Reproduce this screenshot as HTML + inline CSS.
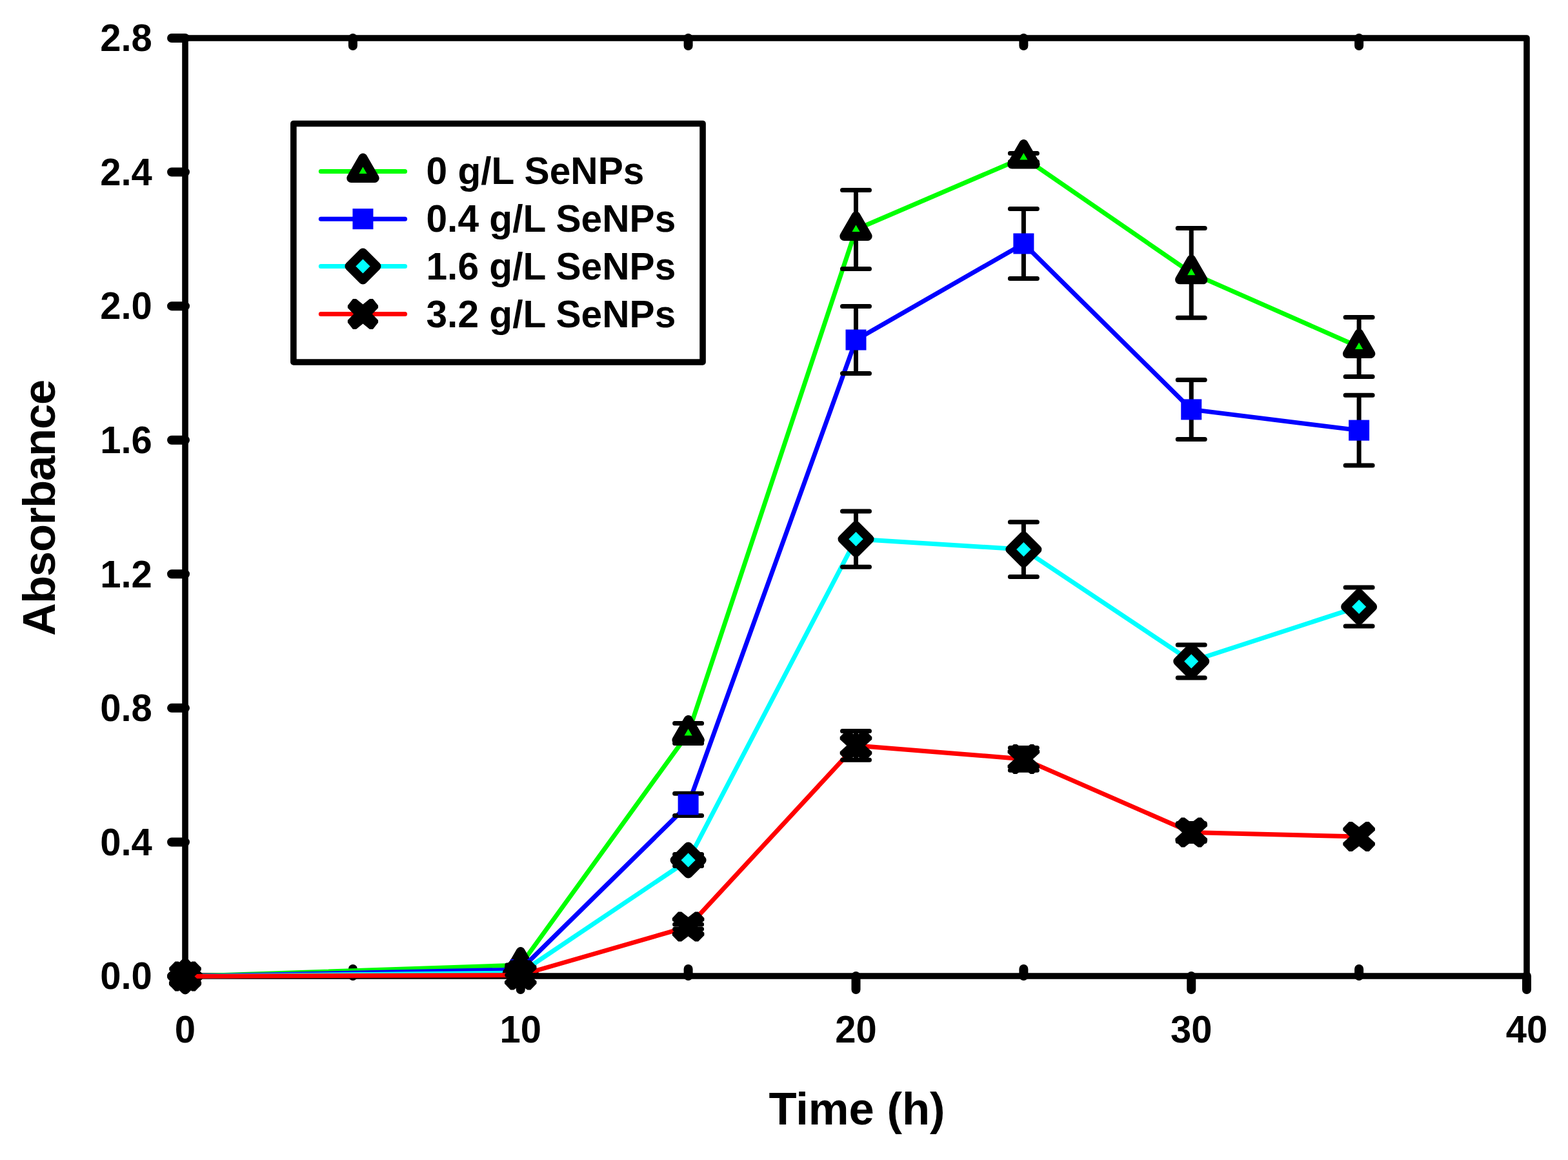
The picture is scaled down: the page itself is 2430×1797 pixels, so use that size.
<!DOCTYPE html>
<html><head><meta charset="utf-8"><title>Absorbance vs Time</title>
<style>html,body{margin:0;padding:0;background:#fff;}svg{display:block;}</style>
</head><body>
<svg width="2430" height="1797" viewBox="0 0 2430 1797">
<rect x="0" y="0" width="2430" height="1797" fill="#fff"/>
<rect x="287.0" y="59.0" width="2079.0" height="1453.0" fill="none" stroke="#000" stroke-width="9.6" stroke-linejoin="round"/>
<path d="M287.0 1512.00H266.0 M287.0 1304.43H266.0 M287.0 1096.86H266.0 M287.0 889.29H266.0 M287.0 681.71H266.0 M287.0 474.14H266.0 M287.0 266.57H266.0 M287.0 59.00H266.0 M287.00 1512.0V1533.0 M806.75 1512.0V1533.0 M1326.50 1512.0V1533.0 M1846.25 1512.0V1533.0 M2366.00 1512.0V1533.0 M546.88 1512.0V1501.0 M546.88 59.0V71.0 M1066.62 1512.0V1501.0 M1066.62 59.0V71.0 M1586.38 1512.0V1501.0 M1586.38 59.0V71.0 M2106.12 1512.0V1501.0 M2106.12 59.0V71.0" stroke="#000" stroke-width="14" stroke-linecap="round" fill="none"/>
<g font-family="Liberation Sans, Arial, sans-serif" font-weight="bold" font-size="58" fill="#000">
<text transform="translate(235.8 1532.30) scale(1 1.015)" text-anchor="end">0.0</text>
<text transform="translate(235.8 1324.73) scale(1 1.015)" text-anchor="end">0.4</text>
<text transform="translate(235.8 1117.16) scale(1 1.015)" text-anchor="end">0.8</text>
<text transform="translate(235.8 909.59) scale(1 1.015)" text-anchor="end">1.2</text>
<text transform="translate(235.8 702.01) scale(1 1.015)" text-anchor="end">1.6</text>
<text transform="translate(235.8 494.44) scale(1 1.015)" text-anchor="end">2.0</text>
<text transform="translate(235.8 286.87) scale(1 1.015)" text-anchor="end">2.4</text>
<text transform="translate(235.8 79.30) scale(1 1.015)" text-anchor="end">2.8</text>
<text transform="translate(287.00 1614.9) scale(1 1.015)" text-anchor="middle">0</text>
<text transform="translate(806.75 1614.9) scale(1 1.015)" text-anchor="middle">10</text>
<text transform="translate(1326.50 1614.9) scale(1 1.015)" text-anchor="middle">20</text>
<text transform="translate(1846.25 1614.9) scale(1 1.015)" text-anchor="middle">30</text>
<text transform="translate(2366.00 1614.9) scale(1 1.015)" text-anchor="middle">40</text>
</g>
<text font-family="Liberation Sans, Arial, sans-serif" font-weight="bold" font-size="70.6" x="1328" y="1741.9" text-anchor="middle">Time (h)</text>
<text font-family="Liberation Sans, Arial, sans-serif" font-weight="bold" font-size="70.6" letter-spacing="-1.2" transform="translate(85.2 786.9) rotate(-90)" text-anchor="middle">Absorbance</text>
<polyline points="287.00,1512.40 806.75,1495.00 1066.62,1135.90 1326.50,355.45 1586.38,244.00 1846.25,422.85 2106.12,537.45" fill="none" stroke="#00ff00" stroke-width="7" stroke-linejoin="round" stroke-linecap="round"/>
<path d="M806.75 1495.00V1495.00M785.75 1495.00H827.75M785.75 1495.00H827.75 M1066.62 1120.40V1151.40M1045.62 1120.40H1087.62M1045.62 1151.40H1087.62 M1326.50 294.45V416.45M1305.50 294.45H1347.50M1305.50 416.45H1347.50 M1586.38 237.50V250.50M1565.38 237.50H1607.38M1565.38 250.50H1607.38 M1846.25 353.40V492.30M1825.25 353.40H1867.25M1825.25 492.30H1867.25 M2106.12 491.45V583.45M2085.12 491.45H2127.12M2085.12 583.45H2127.12" stroke="#000" stroke-width="7" stroke-linecap="round" fill="none"/>
<polygon points="287.00,1491.40 305.19,1522.90 268.81,1522.90" fill="#00ff00" stroke="#000" stroke-width="14" stroke-linejoin="round"/>
<polygon points="806.75,1474.00 824.94,1505.50 788.56,1505.50" fill="#00ff00" stroke="#000" stroke-width="14" stroke-linejoin="round"/>
<polygon points="1066.62,1114.90 1084.81,1146.40 1048.44,1146.40" fill="#00ff00" stroke="#000" stroke-width="14" stroke-linejoin="round"/>
<polygon points="1326.50,334.45 1344.69,365.95 1308.31,365.95" fill="#00ff00" stroke="#000" stroke-width="14" stroke-linejoin="round"/>
<polygon points="1586.38,223.00 1604.56,254.50 1568.19,254.50" fill="#00ff00" stroke="#000" stroke-width="14" stroke-linejoin="round"/>
<polygon points="1846.25,401.85 1864.44,433.35 1828.06,433.35" fill="#00ff00" stroke="#000" stroke-width="14" stroke-linejoin="round"/>
<polygon points="2106.12,516.45 2124.31,547.95 2087.94,547.95" fill="#00ff00" stroke="#000" stroke-width="14" stroke-linejoin="round"/>
<polyline points="287.00,1512.40 806.75,1502.00 1066.62,1246.40 1326.50,526.50 1586.38,377.45 1846.25,634.40 2106.12,666.60" fill="none" stroke="#0000ff" stroke-width="7" stroke-linejoin="round" stroke-linecap="round"/>
<path d="M806.75 1502.00V1502.00M785.75 1502.00H827.75M785.75 1502.00H827.75 M1066.62 1229.30V1263.50M1045.62 1229.30H1087.62M1045.62 1263.50H1087.62 M1326.50 474.50V578.50M1305.50 474.50H1347.50M1305.50 578.50H1347.50 M1586.38 323.45V431.45M1565.38 323.45H1607.38M1565.38 431.45H1607.38 M1846.25 588.40V680.40M1825.25 588.40H1867.25M1825.25 680.40H1867.25 M2106.12 612.30V720.90M2085.12 612.30H2127.12M2085.12 720.90H2127.12" stroke="#000" stroke-width="7" stroke-linecap="round" fill="none"/>
<rect x="271.00" y="1496.40" width="32" height="32" fill="#0000ff"/>
<rect x="790.75" y="1486.00" width="32" height="32" fill="#0000ff"/>
<rect x="1050.62" y="1230.40" width="32" height="32" fill="#0000ff"/>
<rect x="1310.50" y="510.50" width="32" height="32" fill="#0000ff"/>
<rect x="1570.38" y="361.45" width="32" height="32" fill="#0000ff"/>
<rect x="1830.25" y="618.40" width="32" height="32" fill="#0000ff"/>
<rect x="2090.12" y="650.60" width="32" height="32" fill="#0000ff"/>
<polyline points="287.00,1512.40 806.75,1507.00 1066.62,1332.50 1326.50,835.10 1586.38,851.15 1846.25,1024.45 2106.12,939.95" fill="none" stroke="#00ffff" stroke-width="7" stroke-linejoin="round" stroke-linecap="round"/>
<path d="M806.75 1507.00V1507.00M785.75 1507.00H827.75M785.75 1507.00H827.75 M1066.62 1323.50V1341.50M1045.62 1323.50H1087.62M1045.62 1341.50H1087.62 M1326.50 792.00V878.20M1305.50 792.00H1347.50M1305.50 878.20H1347.50 M1586.38 808.80V893.50M1565.38 808.80H1607.38M1565.38 893.50H1607.38 M1846.25 999.00V1049.90M1825.25 999.00H1867.25M1825.25 1049.90H1867.25 M2106.12 910.00V969.90M2085.12 910.00H2127.12M2085.12 969.90H2127.12" stroke="#000" stroke-width="7" stroke-linecap="round" fill="none"/>
<polygon points="287.00,1491.40 308.00,1512.40 287.00,1533.40 266.00,1512.40" fill="#00ffff" stroke="#000" stroke-width="14" stroke-linejoin="round"/>
<polygon points="806.75,1486.00 827.75,1507.00 806.75,1528.00 785.75,1507.00" fill="#00ffff" stroke="#000" stroke-width="14" stroke-linejoin="round"/>
<polygon points="1066.62,1311.50 1087.62,1332.50 1066.62,1353.50 1045.62,1332.50" fill="#00ffff" stroke="#000" stroke-width="14" stroke-linejoin="round"/>
<polygon points="1326.50,814.10 1347.50,835.10 1326.50,856.10 1305.50,835.10" fill="#00ffff" stroke="#000" stroke-width="14" stroke-linejoin="round"/>
<polygon points="1586.38,830.15 1607.38,851.15 1586.38,872.15 1565.38,851.15" fill="#00ffff" stroke="#000" stroke-width="14" stroke-linejoin="round"/>
<polygon points="1846.25,1003.45 1867.25,1024.45 1846.25,1045.45 1825.25,1024.45" fill="#00ffff" stroke="#000" stroke-width="14" stroke-linejoin="round"/>
<polygon points="2106.12,918.95 2127.12,939.95 2106.12,960.95 2085.12,939.95" fill="#00ffff" stroke="#000" stroke-width="14" stroke-linejoin="round"/>
<polyline points="287.00,1512.40 806.75,1510.50 1066.62,1435.60 1326.50,1154.90 1586.38,1175.90 1846.25,1289.45 2106.12,1296.00" fill="none" stroke="#ff0000" stroke-width="7" stroke-linejoin="round" stroke-linecap="round"/>
<path d="M806.75 1510.50V1510.50M785.75 1510.50H827.75M785.75 1510.50H827.75 M1066.62 1431.95V1439.25M1045.62 1431.95H1087.62M1045.62 1439.25H1087.62 M1326.50 1132.50V1177.30M1305.50 1132.50H1347.50M1305.50 1177.30H1347.50 M1586.38 1158.60V1193.20M1565.38 1158.60H1607.38M1565.38 1193.20H1607.38 M1846.25 1275.50V1303.40M1825.25 1275.50H1867.25M1825.25 1303.40H1867.25" stroke="#000" stroke-width="7" stroke-linecap="round" fill="none"/>
<polygon points="287.00,1497.50 297.50,1489.40 302.50,1489.40 311.80,1499.10 311.80,1502.90 301.40,1512.40 311.80,1521.90 311.80,1525.70 302.50,1535.40 297.50,1535.40 287.00,1527.30 276.50,1535.40 271.50,1535.40 262.20,1525.70 262.20,1521.90 272.60,1512.40 262.20,1502.90 262.20,1499.10 271.50,1489.40 276.50,1489.40" fill="#000"/>
<polygon points="806.75,1495.60 817.25,1487.50 822.25,1487.50 831.55,1497.20 831.55,1501.00 821.15,1510.50 831.55,1520.00 831.55,1523.80 822.25,1533.50 817.25,1533.50 806.75,1525.40 796.25,1533.50 791.25,1533.50 781.95,1523.80 781.95,1520.00 792.35,1510.50 781.95,1501.00 781.95,1497.20 791.25,1487.50 796.25,1487.50" fill="#000"/>
<polygon points="1066.62,1420.70 1077.12,1412.60 1082.12,1412.60 1091.42,1422.30 1091.42,1426.10 1081.03,1435.60 1091.42,1445.10 1091.42,1448.90 1082.12,1458.60 1077.12,1458.60 1066.62,1450.50 1056.12,1458.60 1051.12,1458.60 1041.83,1448.90 1041.83,1445.10 1052.22,1435.60 1041.83,1426.10 1041.83,1422.30 1051.12,1412.60 1056.12,1412.60" fill="#000"/>
<polygon points="1326.50,1140.00 1337.00,1131.90 1342.00,1131.90 1351.30,1141.60 1351.30,1145.40 1340.90,1154.90 1351.30,1164.40 1351.30,1168.20 1342.00,1177.90 1337.00,1177.90 1326.50,1169.80 1316.00,1177.90 1311.00,1177.90 1301.70,1168.20 1301.70,1164.40 1312.10,1154.90 1301.70,1145.40 1301.70,1141.60 1311.00,1131.90 1316.00,1131.90" fill="#000"/>
<polygon points="1586.38,1161.00 1596.88,1152.90 1601.88,1152.90 1611.17,1162.60 1611.17,1166.40 1600.78,1175.90 1611.17,1185.40 1611.17,1189.20 1601.88,1198.90 1596.88,1198.90 1586.38,1190.80 1575.88,1198.90 1570.88,1198.90 1561.58,1189.20 1561.58,1185.40 1571.97,1175.90 1561.58,1166.40 1561.58,1162.60 1570.88,1152.90 1575.88,1152.90" fill="#000"/>
<polygon points="1846.25,1274.55 1856.75,1266.45 1861.75,1266.45 1871.05,1276.15 1871.05,1279.95 1860.65,1289.45 1871.05,1298.95 1871.05,1302.75 1861.75,1312.45 1856.75,1312.45 1846.25,1304.35 1835.75,1312.45 1830.75,1312.45 1821.45,1302.75 1821.45,1298.95 1831.85,1289.45 1821.45,1279.95 1821.45,1276.15 1830.75,1266.45 1835.75,1266.45" fill="#000"/>
<polygon points="2106.12,1281.10 2116.62,1273.00 2121.62,1273.00 2130.93,1282.70 2130.93,1286.50 2120.53,1296.00 2130.93,1305.50 2130.93,1309.30 2121.62,1319.00 2116.62,1319.00 2106.12,1310.90 2095.62,1319.00 2090.62,1319.00 2081.32,1309.30 2081.32,1305.50 2091.72,1296.00 2081.32,1286.50 2081.32,1282.70 2090.62,1273.00 2095.62,1273.00" fill="#000"/>
<rect x="454.85" y="191.5" width="634.2" height="369.45" fill="#fff" stroke="#000" stroke-width="9.6" stroke-linejoin="round"/>
<line x1="497.3" y1="265.5" x2="627.6" y2="265.5" stroke="#00ff00" stroke-width="7" stroke-linecap="round"/>
<polygon points="562.45,244.50 580.64,276.00 544.26,276.00" fill="#00ff00" stroke="#000" stroke-width="14" stroke-linejoin="round"/>
<text font-family="Liberation Sans, Arial, sans-serif" font-weight="bold" font-size="58.65" x="660.5" y="284.8">0 g/L SeNPs</text>
<line x1="497.3" y1="339.2" x2="627.6" y2="339.2" stroke="#0000ff" stroke-width="7" stroke-linecap="round"/>
<rect x="546.45" y="323.20" width="32" height="32" fill="#0000ff"/>
<text font-family="Liberation Sans, Arial, sans-serif" font-weight="bold" font-size="58.65" x="660.5" y="359.1">0.4 g/L SeNPs</text>
<line x1="497.3" y1="412.5" x2="627.6" y2="412.5" stroke="#00ffff" stroke-width="7" stroke-linecap="round"/>
<polygon points="562.45,391.50 583.45,412.50 562.45,433.50 541.45,412.50" fill="#00ffff" stroke="#000" stroke-width="14" stroke-linejoin="round"/>
<text font-family="Liberation Sans, Arial, sans-serif" font-weight="bold" font-size="58.65" x="660.5" y="433.4">1.6 g/L SeNPs</text>
<line x1="497.3" y1="486.5" x2="627.6" y2="486.5" stroke="#ff0000" stroke-width="7" stroke-linecap="round"/>
<polygon points="562.45,471.60 572.95,463.00 577.95,463.00 586.05,473.20 586.05,477.00 576.85,486.50 586.05,496.00 586.05,499.80 577.95,510.00 572.95,510.00 562.45,501.40 551.95,510.00 546.95,510.00 538.85,499.80 538.85,496.00 548.05,486.50 538.85,477.00 538.85,473.20 546.95,463.00 551.95,463.00" fill="#000"/>
<text font-family="Liberation Sans, Arial, sans-serif" font-weight="bold" font-size="58.65" x="660.5" y="507.2">3.2 g/L SeNPs</text>
</svg>
</body></html>
